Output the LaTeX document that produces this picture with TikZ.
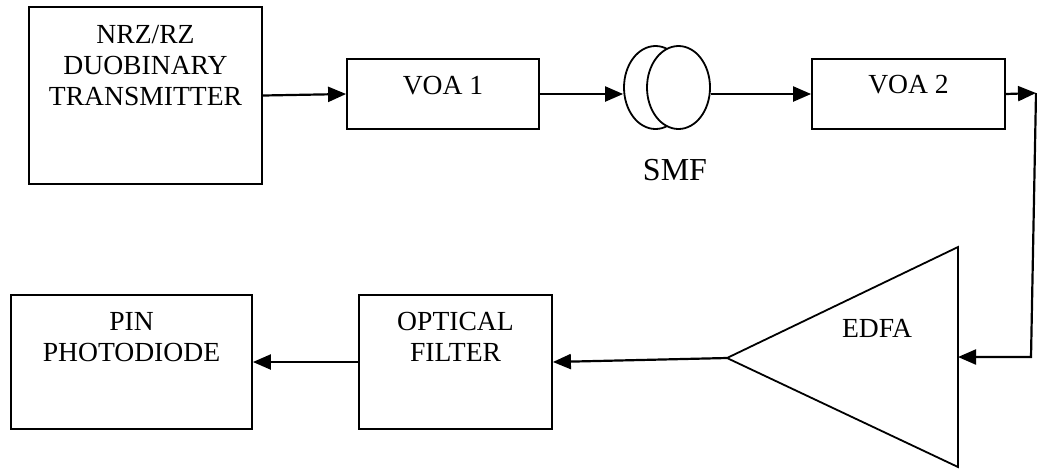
\documentclass[tikz,border=0pt]{standalone}
\usepackage{fontspec}
\setmainfont{Liberation Serif}
\usetikzlibrary{arrows.meta,positioning,shapes.geometric}

\begin{document}
\begin{tikzpicture}[x=0.5pt,y=-0.5pt,
 blk/.style={draw, line width=0.9pt, inner sep=0pt},
 lbl/.style={align=center, inner sep=0pt, font=\fontsize{13.8}{15.5}\selectfont},
 fib/.style={ellipse, draw, fill=white, line width=0.9pt,
    minimum width=31.5pt, minimum height=41.5pt, inner sep=0pt},
 flow/.style={-{Triangle[length=9pt,width=7.5pt]}, line width=1.1pt}]

 \useasboundingbox (0,0) rectangle (1037,468);

% blocks
 \node[blk, minimum width=116.5pt, minimum height=88.5pt] (tx) at (145.5,95.5) {};
 \node[blk, minimum width=96pt, minimum height=35pt] (voa1) at (443,94) {};
 \node[blk, minimum width=96.5pt, minimum height=35pt] (voa2) at (908.5,94) {};
 \node[blk, minimum width=96.5pt, minimum height=67pt] (filt) at (455.5,362) {};
 \node[blk, minimum width=120.5pt, minimum height=67pt] (pin) at (131.5,362) {};

 \node[lbl] (tx-t) at (145.5,66) {NRZ/RZ\\DUOBINARY\\TRANSMITTER};
 \node[lbl] (voa1-t) at (443,86) {VOA 1};
 \node[lbl] (voa2-t) at (908.5,85) {VOA 2};
 \node[lbl] (filt-t) at (455.5,337) {OPTICAL\\FILTER};
 \node[lbl] (pin-t) at (131.5,337) {PIN\\PHOTODIODE};

% fibre spool
 \node[fib] (smfa) at (655.5,87.5) {};
 \node[fib] (smfb) at (678.5,87.5) {};
 \node[lbl, font=\fontsize{16}{18}\selectfont] (smf-t) at (675,170) {SMF};

% amplifier
 \coordinate (edfa out) at (727,358);
 \coordinate (edfa in) at (958,357);
 \draw[line width=0.9pt] (edfa out) -- (958,247) -- (958,467) -- cycle;
 \node[lbl] (edfa-t) at (877,328) {EDFA};

 \coordinate (turn1) at (1036,93);
 \coordinate (turn2) at (1031,357);

 \draw[flow] (tx.east) -- (voa1.west);
 \draw[flow] (voa1.east) -- (voa1.east -| smfa.west);
 \draw[flow] (smfb.east |- voa2.west) -- (voa2.west);
 \draw[flow] (voa2.east) -- (turn1);
 \draw[flow] (turn1) -- (turn2) -- (edfa in);
 \draw[flow] (edfa out) -- (filt.east);
 \draw[flow] (filt.west) -- (pin.east);

\end{tikzpicture}
\end{document}
